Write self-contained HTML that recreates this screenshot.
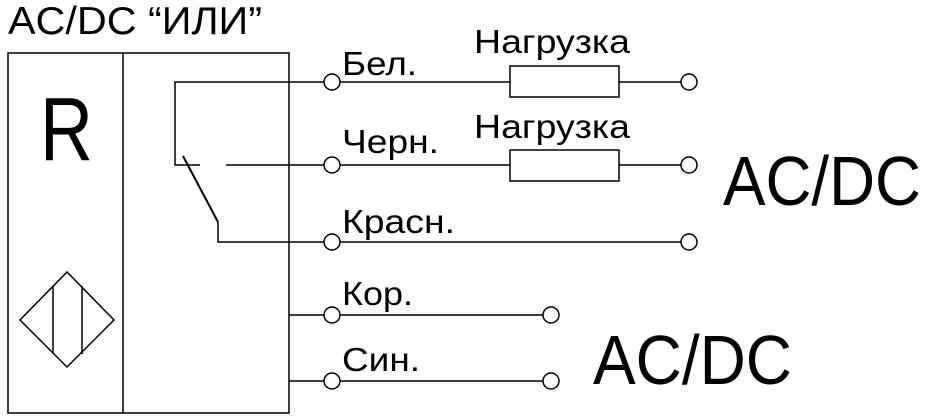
<!DOCTYPE html>
<html><head><meta charset="utf-8"><style>
html,body{margin:0;padding:0;background:#fff;}
svg{display:block;}
text{font-family:"Liberation Sans",Arial,sans-serif;fill:#000;}
</style></head><body>
<svg width="928" height="416" viewBox="0 0 928 416" xmlns="http://www.w3.org/2000/svg">
<g fill="none" stroke="#000" stroke-width="1.5">
<rect x="8" y="53" width="281" height="360"/>
<line x1="123" y1="53" x2="123" y2="413"/>
<polygon points="20,320 67,272 114,320 67,367"/>
<line x1="53" y1="286" x2="53" y2="354"/>
<line x1="82" y1="286" x2="82" y2="354"/>
<polyline points="324,82 175,82 175,165 200,165"/>
<line x1="226" y1="165" x2="324" y2="165"/>
<line x1="183" y1="156" x2="218" y2="222" stroke-width="2"/>
<polyline points="218,222 218,242 324,242"/>
<line x1="289" y1="315" x2="324" y2="315"/>
<line x1="289" y1="381" x2="324" y2="381"/>
<line x1="340" y1="82" x2="510" y2="82"/>
<rect x="510" y="66" width="109" height="31"/>
<line x1="619" y1="82" x2="681" y2="82"/>
<line x1="340" y1="165" x2="510" y2="165"/>
<rect x="510" y="150" width="109" height="31"/>
<line x1="619" y1="165" x2="681" y2="165"/>
<line x1="340" y1="242" x2="681" y2="242"/>
<line x1="340" y1="315" x2="543" y2="315"/>
<line x1="340" y1="381" x2="543" y2="381"/>
<circle cx="332" cy="82" r="8"/><circle cx="689" cy="82" r="8"/>
<circle cx="332" cy="165" r="8"/><circle cx="689" cy="165" r="8"/>
<circle cx="332" cy="242" r="8"/><circle cx="689" cy="242" r="8"/>
<circle cx="332" cy="315" r="8"/><circle cx="551" cy="315" r="8"/>
<circle cx="332" cy="381" r="8"/><circle cx="551" cy="381" r="8"/>
</g>
<text x="8" y="34" font-size="39" textLength="254" lengthAdjust="spacingAndGlyphs">AC/DC “ИЛИ”</text>
<text x="40" y="160" font-size="90" textLength="53" lengthAdjust="spacingAndGlyphs">R</text>
<text x="342" y="75" font-size="33" textLength="75" lengthAdjust="spacingAndGlyphs">Бел.</text>
<text x="342" y="153" font-size="33" textLength="97" lengthAdjust="spacingAndGlyphs">Черн.</text>
<text x="342" y="233" font-size="33" textLength="113" lengthAdjust="spacingAndGlyphs">Красн.</text>
<text x="342" y="305" font-size="33" textLength="71" lengthAdjust="spacingAndGlyphs">Кор.</text>
<text x="342" y="371" font-size="33" textLength="78" lengthAdjust="spacingAndGlyphs">Син.</text>
<text x="474" y="53" font-size="33" textLength="156" lengthAdjust="spacingAndGlyphs">Нагрузка</text>
<text x="474" y="138" font-size="33" textLength="156" lengthAdjust="spacingAndGlyphs">Нагрузка</text>
<text x="723" y="205" font-size="70" textLength="198" lengthAdjust="spacingAndGlyphs">AC/DC</text>
<text x="593" y="384" font-size="70" textLength="199" lengthAdjust="spacingAndGlyphs">AC/DC</text>
</svg>
</body></html>
